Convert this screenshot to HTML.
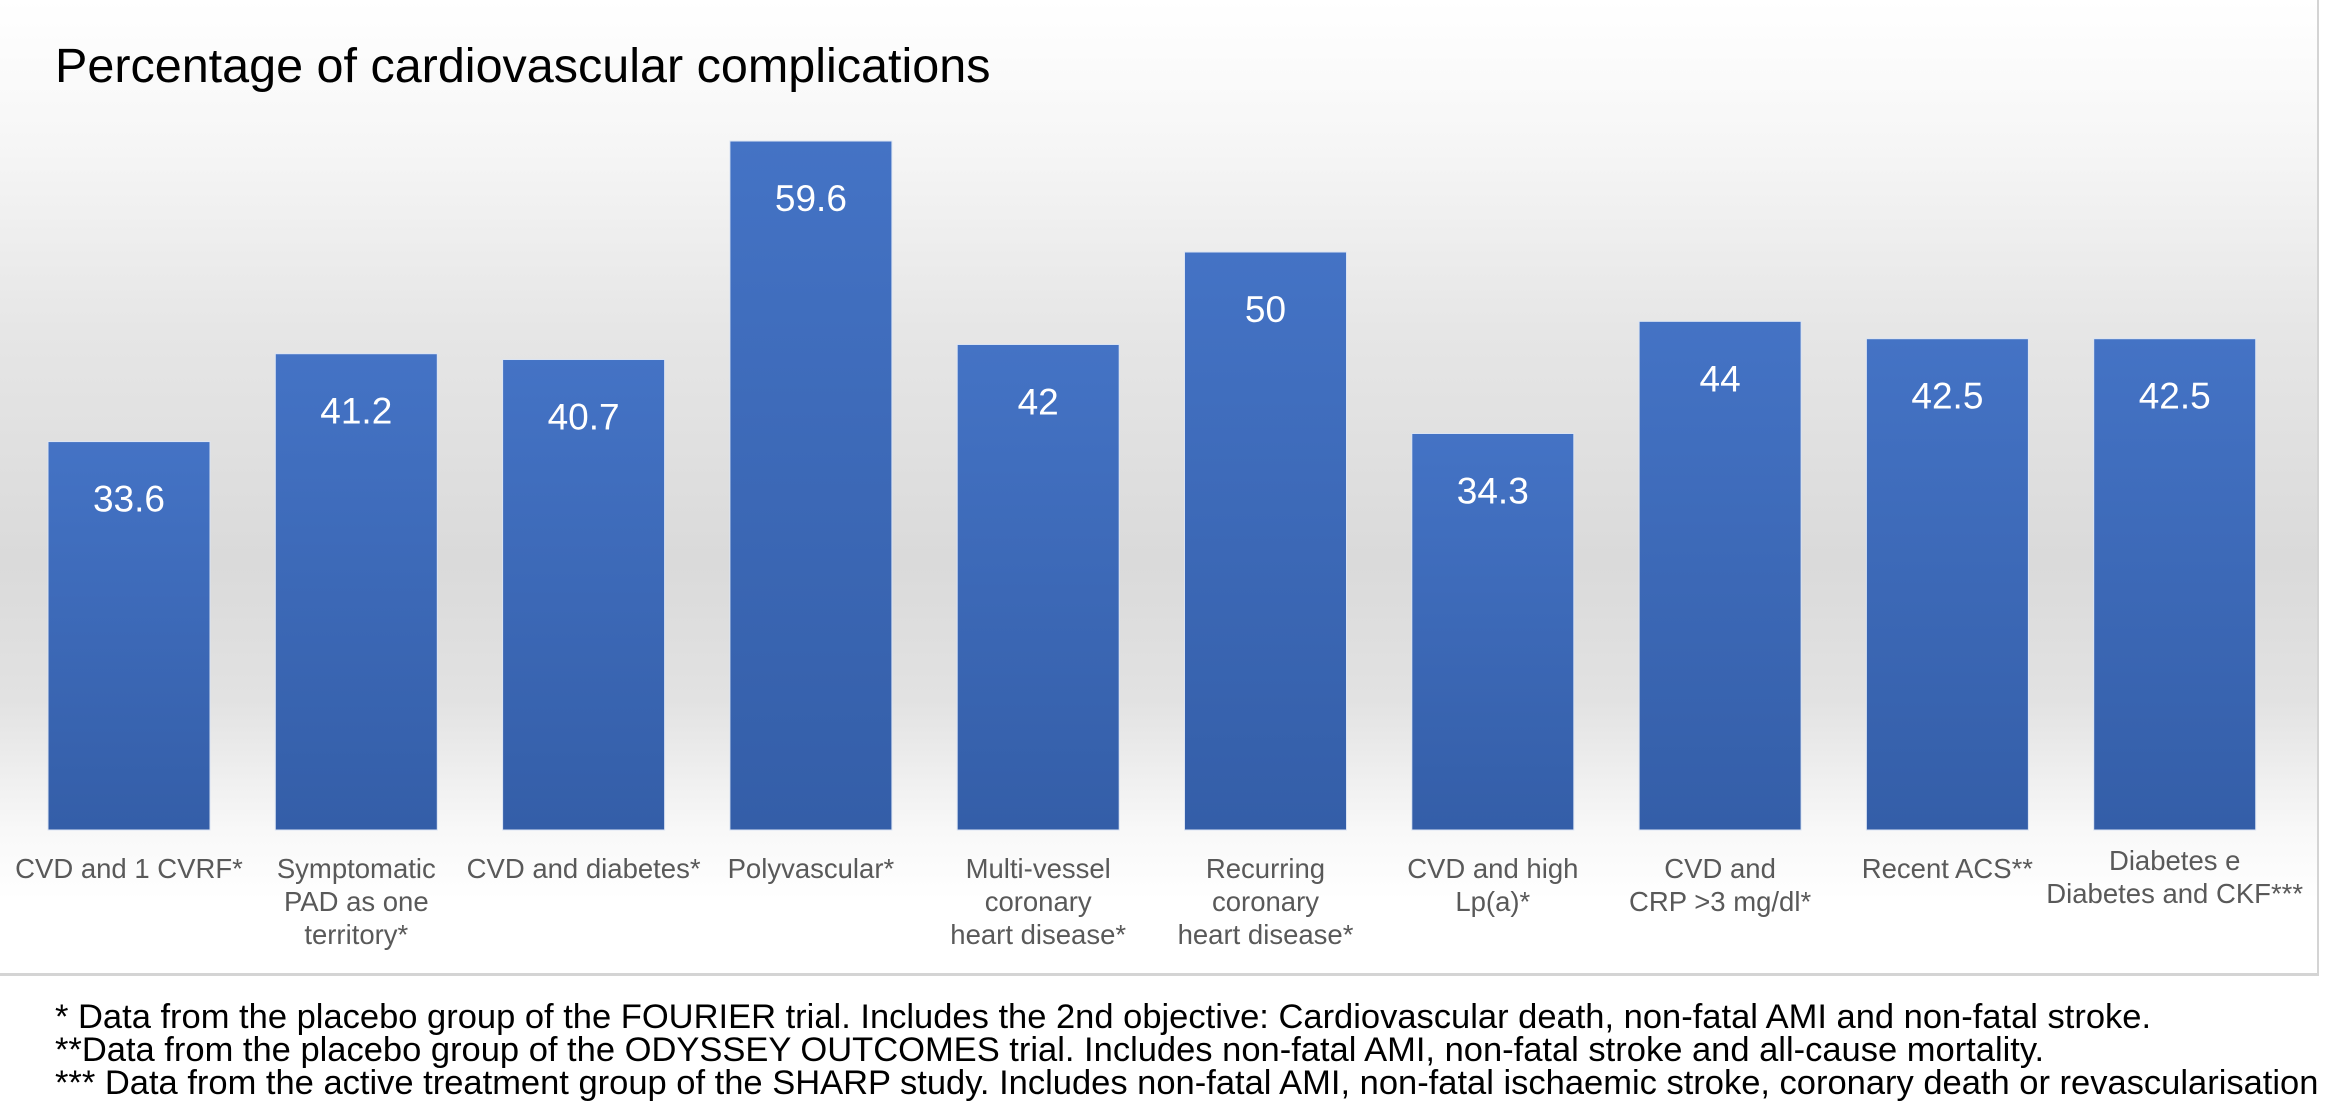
<!DOCTYPE html>
<html><head><meta charset="utf-8">
<style>
html,body{margin:0;padding:0;}
body{width:2334px;height:1104px;overflow:hidden;background:#fff;font-family:"Liberation Sans",sans-serif;position:relative;}
#chart-area{position:absolute;left:0;top:0;width:2319px;height:976px;
background:linear-gradient(to bottom,#ffffff 0px,#f7f7f7 130px,#e6e6e6 330px,#dadada 560px,#e2e2e2 700px,#f8f8f8 830px,#ffffff 900px,#ffffff 976px);
border-right:2px solid #d4d4d4;border-bottom:3px solid #d4d4d4;box-sizing:border-box;}
#title{position:absolute;left:55px;top:38px;font-size:48.5px;color:#000;white-space:nowrap;}
.foot{position:absolute;left:55px;font-size:34.5px;color:#000;white-space:nowrap;line-height:1;}
</style></head>
<body>
<div id="chart-area"></div>
<div id="title">Percentage of cardiovascular complications</div>
<svg id="plot" width="2334" height="1104" style="position:absolute;left:0;top:0">
<defs>
<linearGradient id="barGrad" x1="0" y1="0" x2="0" y2="1">
<stop offset="0" stop-color="#4473c5"/><stop offset="1" stop-color="#345ea8"/>
</linearGradient>
</defs>
<g id="bars"></g><g id="values"></g><g id="cats"></g>
</svg>
<div class="foot" style="top:1000px">* Data from the placebo group of the FOURIER trial. Includes the 2nd objective: Cardiovascular death, non-fatal AMI and non-fatal stroke.</div>
<div class="foot" style="top:1033px">**Data from the placebo group of the ODYSSEY OUTCOMES trial. Includes non-fatal AMI, non-fatal stroke and all-cause mortality.</div>
<div class="foot" style="top:1066px">*** Data from the active treatment group of the SHARP study. Includes non-fatal AMI, non-fatal ischaemic stroke, coronary death or revascularisation</div>
<script>
const categories=[["CVD and 1 CVRF*"],["Symptomatic","PAD as one","territory*"],["CVD and diabetes*"],["Polyvascular*"],["Multi-vessel","coronary","heart disease*"],["Recurring","coronary","heart disease*"],["CVD and high","Lp(a)*"],["CVD and","CRP >3 mg/dl*"],["Recent ACS**"],["Diabetes e","Diabetes and CKF***"]];
const values=[33.6,41.2,40.7,59.6,42,50,34.3,44,42.5,42.5];
const valueLabels=["33.6","41.2","40.7","59.6","42","50","34.3","44","42.5","42.5"];

const NS="http://www.w3.org/2000/svg";
const baseY=830, pxPerUnit=11.56, x0=48, pitch=227.3, bw=162;
function yScale(v){return baseY-v*pxPerUnit;}
function xScale(i){return x0+i*pitch;}
const gB=document.getElementById('bars'),gV=document.getElementById('values'),gC=document.getElementById('cats');
values.forEach((v,i)=>{
  const x=xScale(i),y=yScale(v);
  const r=document.createElementNS(NS,'rect');
  r.setAttribute('x',x);r.setAttribute('y',y);r.setAttribute('width',bw);r.setAttribute('height',baseY-y);
  r.setAttribute('fill','url(#barGrad)');r.setAttribute('stroke','#dbe4f3');r.setAttribute('stroke-width','1');
  
  
  gB.appendChild(r);
  const t=document.createElementNS(NS,'text');
  t.setAttribute('x',x+bw/2);t.setAttribute('y',y+70);t.setAttribute('text-anchor','middle');
  t.setAttribute('font-size','37');t.setAttribute('fill','#ffffff');t.setAttribute('font-family','Liberation Sans, sans-serif');
  t.textContent=valueLabels[i];
  
  
  gV.appendChild(t);
  const lines=categories[i];
  const startY=(i===9)?870:878;
  lines.forEach((ln,j)=>{
    const c=document.createElementNS(NS,'text');
    c.setAttribute('x',x+bw/2);c.setAttribute('y',startY+j*33);c.setAttribute('text-anchor','middle');
    c.setAttribute('font-size','27.5');c.setAttribute('fill','#595959');c.setAttribute('font-family','Liberation Sans, sans-serif');
    c.textContent=ln;
    
    
    gC.appendChild(c);
  });
});
</script>
</body></html>
